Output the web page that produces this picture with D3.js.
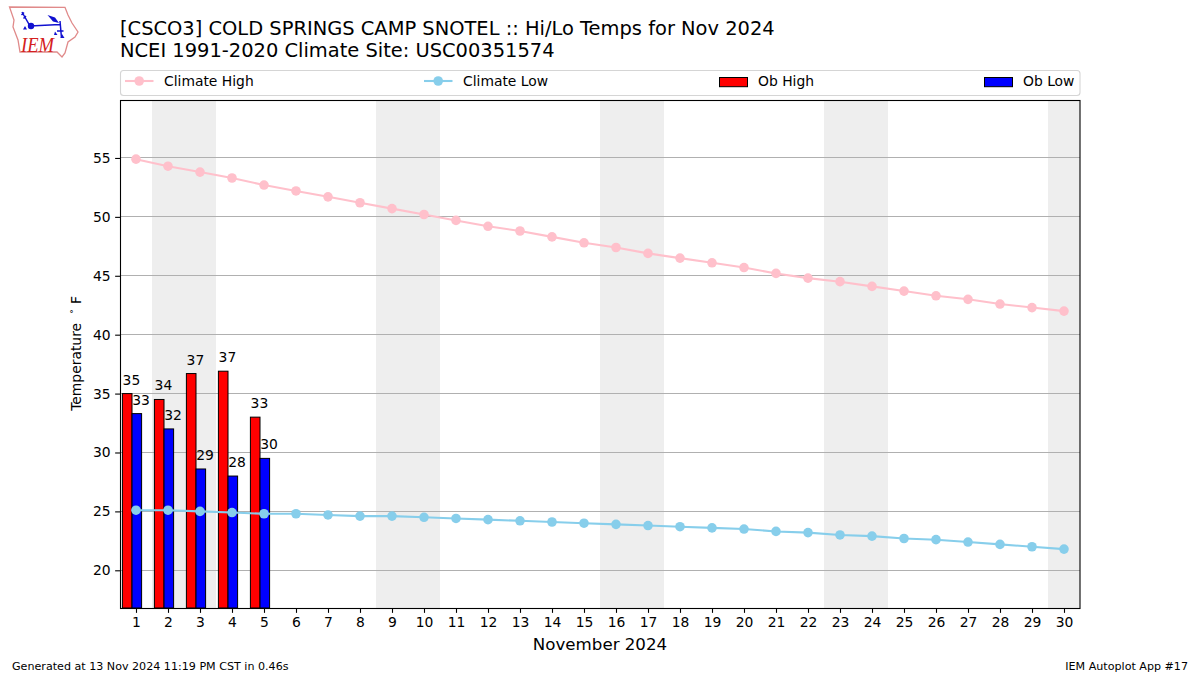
<!DOCTYPE html>
<html><head><meta charset="utf-8">
<script src="https://cdn.jsdelivr.net/npm/d3@7"></script>
<style>html,body{margin:0;padding:0;background:#fff}svg{display:block}text{font-family:"DejaVu Sans",sans-serif;fill:#000}</style>
</head><body><svg id="c" width="1200" height="675"></svg>
<script>
const titleLines = ["[CSCO3] COLD SPRINGS CAMP SNOTEL :: Hi/Lo Temps for Nov 2024","NCEI 1991-2020 Climate Site: USC00351574"];
const days = d3.range(1,31);
const climateHigh = [54.9,54.3,53.8,53.3,52.7,52.2,51.7,51.2,50.7,50.2,49.7,49.2,48.8,48.3,47.8,47.4,46.9,46.5,46.1,45.7,45.2,44.8,44.5,44.1,43.7,43.3,43.0,42.6,42.3,42.0];
const climateLow = [25.1,25.1,25.0,24.9,24.8,24.8,24.7,24.6,24.6,24.5,24.4,24.3,24.2,24.1,24.0,23.9,23.8,23.7,23.6,23.5,23.3,23.2,23.0,22.9,22.7,22.6,22.4,22.2,22.0,21.8];
const obHigh = [35.0,34.5,36.7,36.9,33.0];
const obLow = [33.3,32.0,28.6,28.0,29.5];
const obHighLabels = ["35","34","37","37","33"];
const obLowLabels = ["33","32","29","28","30"];
const weekendDays = [2,3,9,10,16,17,23,24,30];
const yTicks = [20,25,30,35,40,45,50,55];
const legendNames = ["Climate High","Climate Low","Ob High","Ob Low"];

const svg = d3.select("#c");
const L=120,R=1080,T=100,B=608;
const x = d3.scaleLinear().domain([0.5,30.5]).range([L,R]);
const y = d3.scaleLinear().domain([16.8,59.92]).range([B,T]);
const bw = x(0.3)-x(0);

// logo
const logo = svg.append("g");
logo.append("path").attr("d","M9.5,7 L65,7.3 L68,15 L72,23 L78,32 L75,37 L68,42 L65,53 L62,57 L57,52 L20,52 L18,40 L13,27 L14,20 Z")
  .attr("fill","#fff").attr("stroke","#e08a8a").attr("stroke-width",1.3);
logo.append("path").attr("d","M22,12 L30,26 L60,24.5 M60,21 L61.5,38 M24,12.5 L21.5,15 M26,16 L23.5,18.5 M57,31 L63.5,31")
  .attr("fill","none").attr("stroke","#1010d0").attr("stroke-width",1.5);
logo.append("circle").attr("cx",31).attr("cy",26).attr("r",3.2).attr("fill","#1010d0");
logo.append("path").attr("d","M47.5,15 L55,17.5 L59,23 L53,21.5 Z").attr("fill","#1010d0");
logo.append("path").attr("d","M25,26 L27,29.5 L23,29.5 Z M55,31.5 L57.5,35 L54,35 Z M62,34 L64.5,38 L60.5,38 Z").attr("fill","#1010d0");
logo.append("text").attr("x",21).attr("y",52).attr("font-size",21).attr("font-style","italic").attr("textLength",33).attr("lengthAdjust","spacingAndGlyphs")
  .style("font-family","'Liberation Serif',serif").style("fill","#d42020").text("IEM");

// titles
svg.selectAll("text.title").data(titleLines).join("text").attr("class","title")
  .attr("x",120).attr("y",(d,i)=>35+i*22.4).attr("font-size",19.44).text(d=>d);

// weekend shading
svg.append("g").selectAll("rect").data(weekendDays).join("rect")
  .attr("x",d=>x(d-0.5)).attr("width",d=>x(d+0.5)-x(d-0.5)).attr("y",T).attr("height",B-T).attr("fill","#eeeeee");

// grid
svg.append("g").selectAll("line").data(yTicks).join("line")
  .attr("x1",L).attr("x2",R).attr("y1",d=>Math.floor(y(d))+0.5).attr("y2",d=>Math.floor(y(d))+0.5)
  .attr("stroke","#b0b0b0").attr("stroke-width",1);

// bars
svg.append("g").selectAll("rect").data(obHigh).join("rect")
  .attr("x",(d,i)=>x(days[i]-0.425)).attr("width",bw).attr("y",d=>y(d)).attr("height",d=>B-y(d))
  .attr("fill","#ff0000").attr("stroke","#000").attr("stroke-width",1);
svg.append("g").selectAll("rect").data(obLow).join("rect")
  .attr("x",(d,i)=>x(days[i]-0.125)).attr("width",bw).attr("y",d=>y(d)).attr("height",d=>B-y(d))
  .attr("fill","#0000ff").attr("stroke","#000").attr("stroke-width",1);

// lines
const line = (vals)=>d3.line().x((d,i)=>x(days[i])).y(d=>y(d))(vals);
[[climateHigh,"#ffc0cb"],[climateLow,"#87ceeb"]].forEach(([vals,col])=>{
  svg.append("path").attr("d",line(vals)).attr("fill","none").attr("stroke",col).attr("stroke-width",2.08);
  svg.append("g").selectAll("circle").data(vals).join("circle")
    .attr("cx",(d,i)=>x(days[i])).attr("cy",d=>y(d)).attr("r",4.8).attr("fill",col);
});

// bar labels
svg.append("g").selectAll("text").data(obHigh).join("text")
  .attr("x",(d,i)=>x(days[i]-0.45)+1).attr("y",d=>y(d)-9).attr("font-size",13.89).text((d,i)=>obHighLabels[i]);
svg.append("g").selectAll("text").data(obLow).join("text")
  .attr("x",(d,i)=>x(days[i]-0.15)+1).attr("y",d=>y(d)-9).attr("font-size",13.89).text((d,i)=>obLowLabels[i]);

// axes
const ax = svg.append("g").attr("transform",`translate(0,${B})`)
  .call(d3.axisBottom(x).tickValues(days).tickFormat(d3.format("d")).tickSize(4.86).tickPadding(4.5));
const ay = svg.append("g").attr("transform",`translate(${L},0)`)
  .call(d3.axisLeft(y).tickValues(yTicks).tickFormat(d3.format("d")).tickSize(4.86).tickPadding(4.5));
[ax,ay].forEach(a=>{
  a.select(".domain").remove();
  a.selectAll("text").attr("font-size",13.89).style("font-family",'"DejaVu Sans",sans-serif');
  a.selectAll("line").attr("stroke","#000").attr("stroke-width",1.1);
});
svg.append("rect").attr("x",L+0.5).attr("y",T+0.5).attr("width",R-L-0.5).attr("height",B-T)
  .attr("fill","none").attr("stroke","#000").attr("stroke-width",1.1);

// axis titles
svg.append("text").attr("x",600).attr("y",650).attr("text-anchor","middle").attr("font-size",16.67).text("November 2024");
const yl = svg.append("text").attr("transform","translate(80.5,410.8) rotate(-90)").attr("font-size",13.89);
yl.append("tspan").attr("x",0).text("Temperature");
yl.append("tspan").attr("x",97).attr("dy",-3.6).attr("font-size",9).text("\u00B0");
yl.append("tspan").attr("x",106.8).attr("dy",3.6).text("F");

// legend
svg.append("rect").attr("x",120.5).attr("y",70.5).attr("width",959.5).attr("height",25).attr("rx",3)
  .attr("fill","#fff").attr("stroke","#d5d5d5").attr("stroke-width",1.1);
const legendX = [125,424,719,984];
const legendColors = ["#ffc0cb","#87ceeb","#ff0000","#0000ff"];
legendNames.forEach((n,i)=>{
  const lx = legendX[i], g = svg.append("g");
  if(i<2){
    g.append("line").attr("x1",lx).attr("x2",lx+28.5).attr("y1",81).attr("y2",81).attr("stroke",legendColors[i]).attr("stroke-width",2.08);
    g.append("circle").attr("cx",lx+14.2).attr("cy",81).attr("r",4.8).attr("fill",legendColors[i]);
  } else {
    g.append("rect").attr("x",lx+0.5).attr("y",77.5).attr("width",28).attr("height",9.2).attr("fill",legendColors[i]).attr("stroke","#000").attr("stroke-width",1);
  }
  g.append("text").attr("x",lx+39).attr("y",86).attr("font-size",13.89).text(n);
});

// footer
svg.append("text").attr("x",12).attr("y",670).attr("font-size",11.11).text("Generated at 13 Nov 2024 11:19 PM CST in 0.46s");
svg.append("text").attr("x",1188).attr("y",670).attr("text-anchor","end").attr("font-size",11.11).text("IEM Autoplot App #17");
</script></body></html>
